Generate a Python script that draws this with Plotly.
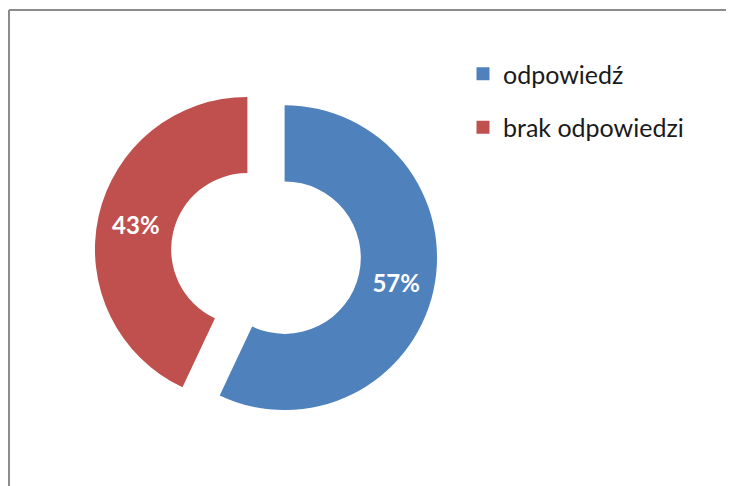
import plotly.graph_objects as go

categories = ["odpowiedź", "brak odpowiedzi"]
values = [57, 43]
colors = ["#4F81BD", "#C0504D"]

# page body has an 8px margin, so the figure is offset by 8px in the window
W, H = 726, 478

fig = go.Figure()

fig.add_trace(go.Pie(
    labels=categories,
    values=values,
    hole=0.5,
    pull=[0.125, 0.125],
    sort=False,
    direction="clockwise",
    rotation=0,
    marker=dict(colors=colors, line=dict(width=0)),
    textinfo="percent",
    textposition="inside",
    insidetextorientation="horizontal",
    textfont=dict(family="Lato, Noto Sans, sans-serif", size=24, color="white", weight="bold"),
    showlegend=False,
    hoverinfo="label+percent",
    domain=dict(x=[86.5 / W, 429.5 / W], y=[(H - 417) / H, (H - 74) / H]),
))

for name, col in zip(categories, colors):
    fig.add_trace(go.Scatter(
        x=[None], y=[None], mode="markers", name=name, legendgroup=name,
        marker=dict(symbol="square", size=13, color=col),
        hoverinfo="skip",
    ))

frame = dict(color="#8c8c8c", width=2)
fig.update_layout(
    width=W, height=H,
    margin=dict(l=0, r=0, t=0, b=0),
    paper_bgcolor="white",
    plot_bgcolor="white",
    xaxis=dict(visible=False),
    yaxis=dict(visible=False),
    legend=dict(
        x=455 / W, y=1 - 43 / H, xanchor="left", yanchor="top",
        font=dict(family="Lato, Noto Sans, sans-serif", size=25, color="#1a1a1a"),
        tracegroupgap=18,
        bgcolor="rgba(0,0,0,0)",
    ),
    shapes=[
        dict(type="line", xref="paper", yref="paper",
             x0=1 / W, x1=1.0, y0=1 - 2 / H, y1=1 - 2 / H, line=frame, layer="above"),
        dict(type="line", xref="paper", yref="paper",
             x0=1 / W, x1=1 / W, y0=0.0, y1=1 - 2 / H, line=frame, layer="above"),
    ],
)

fig.write_html("out.html")
